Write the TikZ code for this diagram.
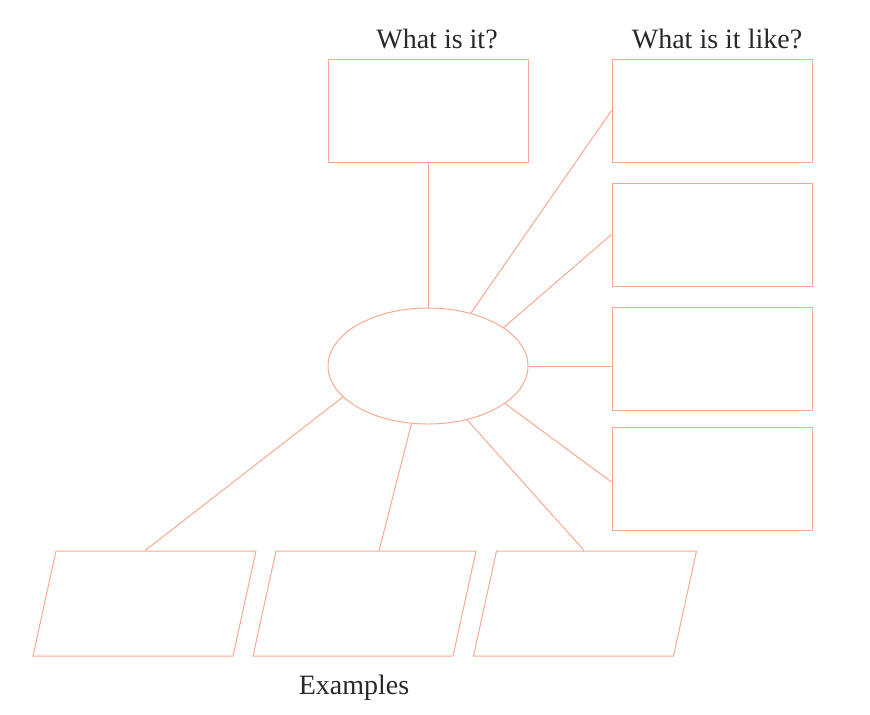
\documentclass[tikz,border=0pt]{standalone}
\usepackage{fontspec}
\setmainfont{Liberation Serif}
\usetikzlibrary{shapes.geometric}

\definecolor{salmonline}{RGB}{247,170,145}
\definecolor{headtext}{RGB}{40,40,40}

\tikzset{
  infobox/.style={draw=salmonline, line width=0.5pt, minimum width=100pt, minimum height=51.5pt, inner sep=0pt},
  examplebox/.style={draw=salmonline, line width=0.5pt, xslant=0.219, transform shape, minimum width=100pt, minimum height=52.5pt, inner sep=0pt},
  hub/.style={draw=salmonline, line width=0.5pt, ellipse, minimum width=100pt, minimum height=58pt, inner sep=0pt},
  link/.style={draw=salmonline, line width=0.5pt},
  heading/.style={text=headtext, font=\fontsize{14}{16}\selectfont}
}

\begin{document}
\begin{tikzpicture}[x=0.5pt, y=-0.5pt]

\useasboundingbox (0,0) rectangle (870,714);

\node[heading] (whatlabel) at (437, 39) {What is it?};
\node[heading] (likelabel) at (717, 39) {What is it like?};
\node[heading] (exlabel) at (354, 688) {Examples};

\node[infobox] (whatbox) at (428, 110.5) {};

\node[infobox] (like1) at (712, 110.5) {};
\node[infobox] (like2) at (712, 234.5) {};
\node[infobox] (like3) at (712, 358.5) {};
\node[infobox] (like4) at (712, 478.5) {};

\node[hub] (topic) at (428, 366) {};

\node[examplebox] (ex1) at (144.5, 603.5) {};
\node[examplebox] (ex2) at (364.5, 603.5) {};
\node[examplebox] (ex3) at (585, 603.5) {};

\draw[link] (whatbox.south) -- (topic.north);

\draw[link] (topic.51) -- (like1.west);
\draw[link] (topic.27) -- (like2.west);
\draw[link] (topic.east) -- (topic.east -| like3.west);
\draw[link] (topic.-26) -- ([yshift=-1.75pt]like4.west);

\draw[link] (topic.200) -- ([xshift=-5.5pt]ex1.north);
\draw[link] (topic.254) -- ([xshift=1.5pt]ex2.north);
\draw[link] (topic.306) -- ([xshift=-6.25pt]ex3.north);

\end{tikzpicture}
\end{document}
